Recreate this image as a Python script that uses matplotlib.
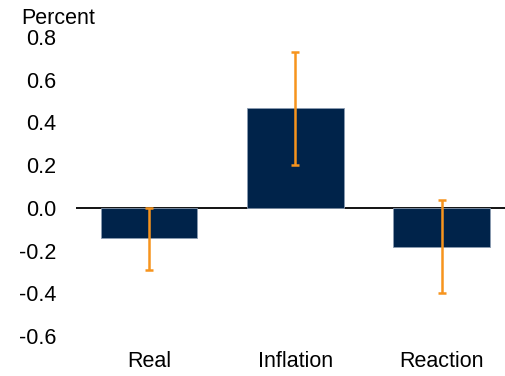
import matplotlib.pyplot as plt

plt.rcParams['font.family'] = ['Liberation Sans', 'DejaVu Sans']

categories = ["Real", "Inflation", "Reaction"]
values = [-0.14, 0.468, -0.183]
err_low = [-0.29, 0.20, -0.40]
err_high = [0.0, 0.73, 0.037]

yerr = [[v - lo for v, lo in zip(values, err_low)],
        [hi - v for v, hi in zip(values, err_high)]]

fig = plt.figure(figsize=(5.06, 3.76), dpi=100)
# axes placed in pixel terms: left 76, top 37, bottom 336
ax = fig.add_axes([76 / 506, 1 - 336 / 376, 1 - 76 / 506, (336 - 37) / 376])

x = range(len(categories))
ax.bar(x, values, width=0.66, color="#00234a", edgecolor="#8a9bb0", linewidth=0.6, zorder=2)
ax.errorbar(x, values, yerr=yerr, fmt="none", ecolor="#f7941d", elinewidth=1.8,
            capsize=3, capthick=1.8, zorder=3)
ax.axhline(0, color="black", linewidth=1.3, zorder=1)

ax.set_xlim(-0.5, 2.44)
ax.set_ylim(-0.6, 0.8)
ax.set_yticks([-0.6, -0.4, -0.2, 0.0, 0.2, 0.4, 0.6, 0.8])
ax.set_yticklabels(["-0.6", "-0.4", "-0.2", "0.0", "0.2", "0.4", "0.6", "0.8"])
ax.set_xticks(list(x))
ax.set_xticklabels(categories)
ax.tick_params(axis="y", length=0, pad=14, labelsize=15.5)
ax.tick_params(axis="x", length=0, pad=10.5, labelsize=15.5)
for s in ax.spines.values():
    s.set_visible(False)

fig.text(21 / 506, 1 - 18 / 376, "Percent", fontsize=15.5, va="center", ha="left")

fig.savefig("out.png", dpi=100)
